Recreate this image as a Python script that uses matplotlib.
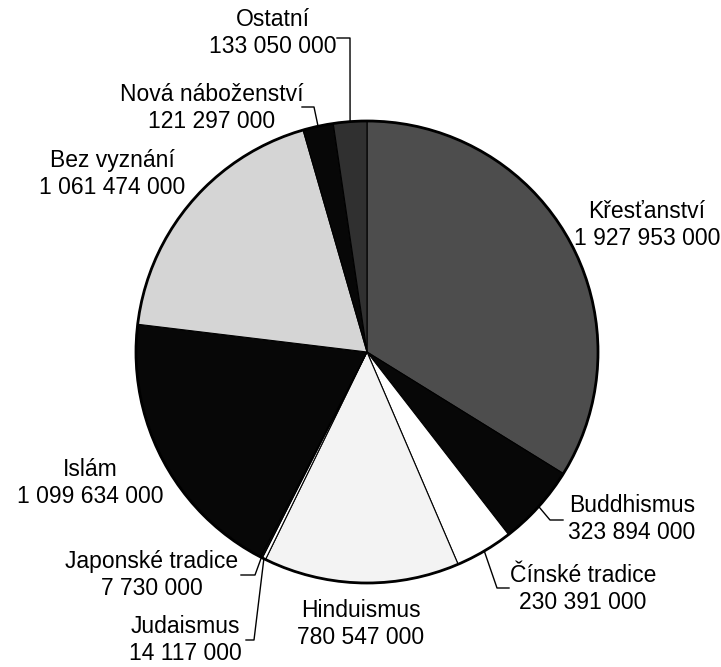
import numpy as np
import matplotlib
matplotlib.use("Agg")
import matplotlib.pyplot as plt

categories = ["Křesťanství", "Buddhismus", "Čínské tradice", "Hinduismus", "Judaismus",
              "Japonské tradice", "Islám", "Bez vyznání", "Nová náboženství", "Ostatní"]
values = [1927953000, 323894000, 230391000, 780547000, 14117000,
          7730000, 1099634000, 1061474000, 121297000, 133050000]
colors = ["#4d4d4d", "#070707", "#ffffff", "#f3f3f3", "#ffffff",
          "#111111", "#070707", "#d5d5d5", "#070707", "#303030"]

W, H = 721, 667
def P(x, y):
    return (x, H - y)

def fmt(v):
    return f"{v:,}".replace(",", " ")

fig = plt.figure(figsize=(7.21, 6.67), dpi=100)
ax = fig.add_axes([0, 0, 1, 1])
cx, cy = P(367, 352)
R = 231
wedges, _ = ax.pie(values, colors=colors, startangle=90, counterclock=False,
                   center=(cx, cy), radius=R,
                   wedgeprops=dict(edgecolor="black", linewidth=0.8))
ax.add_patch(plt.Circle((cx, cy), R, fill=False, edgecolor="black", linewidth=2.0))
ax.set_xlim(0, W)
ax.set_ylim(0, H)
ax.set_aspect("equal")
ax.axis("off")

# label layout: (text center px, leader elbow points px or None)
layout = {
    "Křesťanství": ((647, 225), None),
    "Buddhismus": ((632, 519), [(550, 520), (563, 520)]),
    "Čínské tradice": ((583, 589), [(497, 588), (509, 588)]),
    "Hinduismus": ((361, 624), None),
    "Judaismus": ((185, 640), [(254, 640), (246, 640)]),
    "Japonské tradice": ((152, 575), [(255, 575), (241, 575)]),
    "Islám": ((90, 483), None),
    "Bez vyznání": ((112, 174), None),
    "Nová náboženství": ((212, 108), [(314, 107), (302, 107)]),
    "Ostatní": ((273, 33), [(350, 38), (337, 38)]),
}

for w, cat, v in zip(wedges, categories, values):
    (tx, ty), elbow = layout[cat]
    ax.text(*P(tx, ty), f"{cat}\n{fmt(v)}", ha="center", va="center",
            multialignment="center", fontsize=16.5, linespacing=1.18,
            family=["Liberation Sans", "DejaVu Sans"])
    if elbow is not None:
        mid = np.deg2rad((w.theta1 + w.theta2) / 2)
        ax_pt = (cx + R * np.cos(mid), cy + R * np.sin(mid))
        pts = [ax_pt] + [P(*e) for e in elbow]
        xs, ys = zip(*pts)
        ax.plot(xs, ys, color="black", linewidth=1.0)

fig.savefig("out.png", dpi=100)
